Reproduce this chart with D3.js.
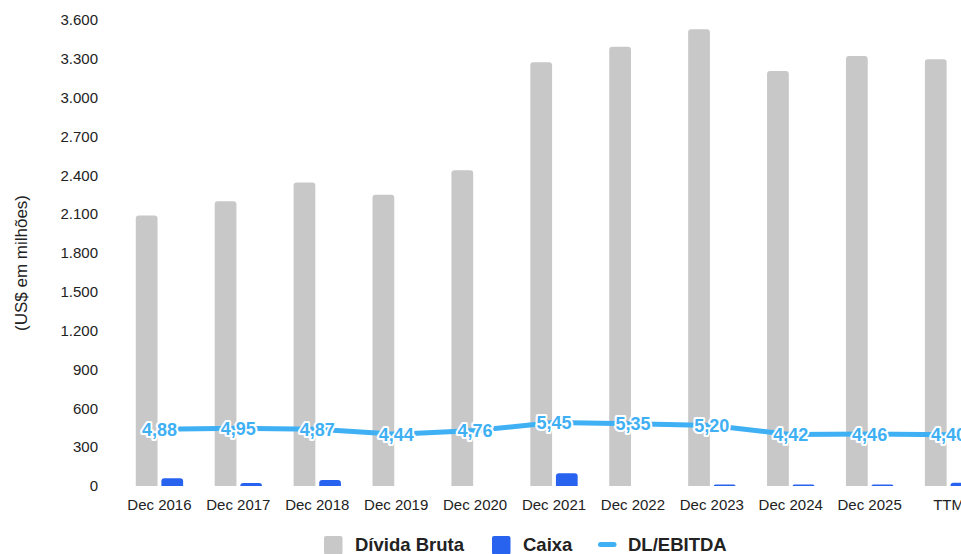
<!DOCTYPE html>
<html><head><meta charset="utf-8">
<script src="https://cdn.jsdelivr.net/npm/d3@7"></script>
<style>
html,body{margin:0;padding:0;background:#fff;overflow:hidden;}
svg{display:block;font-family:"Liberation Sans",Arial,Helvetica,sans-serif;}
</style></head>
<body>
<svg id="chart" width="961" height="554"></svg>
<script>
const categories = ["Dec 2016","Dec 2017","Dec 2018","Dec 2019","Dec 2020","Dec 2021","Dec 2022","Dec 2023","Dec 2024","Dec 2025","TTM"];
const dividaBruta = [2090, 2200, 2345, 2250, 2440, 3273, 3394, 3528, 3206, 3322, 3296];
const caixa = [60, 23, 46, 0, 0, 98, 0, 12, 12, 12, 25];
const dlEbitda = [4.88, 4.95, 4.87, 4.44, 4.76, 5.45, 5.35, 5.20, 4.42, 4.46, 4.40];
const yTicks = [0, 300, 600, 900, 1200, 1500, 1800, 2100, 2400, 2700, 3000, 3300, 3600];
const seriesNames = ["Dívida Bruta", "Caixa", "DL/EBITDA"];
const colors = {gray:"#c8c8c8", blue:"#2863f0", line:"#3fb0f3"};

const svg = d3.select("#chart");
const y = d3.scaleLinear().domain([0,3600]).range([486,20]);
const y2 = d3.scaleLinear().domain([0,40]).range([486,20]);
const x0 = d3.scaleBand().domain(categories).range([120,988]).paddingInner(0.4).paddingOuter(0.2);
const x1 = d3.scaleBand().domain(["bruta","caixa"]).range([0,x0.bandwidth()]).paddingInner(0.15);
const fmt = d3.formatLocale({decimal:",", thousands:".", grouping:[3], currency:["US$",""]});
const tickFmt = fmt.format(",.0f");
const lblFmt = fmt.format(".2f");

// y axis
const yAxis = d3.axisLeft(y).tickValues(yTicks).tickFormat(tickFmt).tickSize(0).tickPadding(0);
const ya = svg.append("g").attr("transform","translate(98,0)").call(yAxis);
ya.select(".domain").remove();
ya.selectAll("text").attr("font-size",15).attr("fill","#222").attr("font-family","Liberation Sans, Arial, sans-serif");

svg.append("text").attr("transform","translate(27,263) rotate(-90)")
  .attr("text-anchor","middle").attr("font-size",17).attr("fill","#222")
  .text("(US$ em milhões)");

// x axis
const xAxis = d3.axisBottom(x0).tickSize(0).tickPadding(0);
const xa = svg.append("g").attr("transform","translate(0,496)").call(xAxis);
xa.select(".domain").remove();
xa.selectAll("text").attr("font-size",15).attr("fill","#222").attr("font-family","Liberation Sans, Arial, sans-serif").attr("dy","0.95em");

function topRounded(x, yTop, w, h, r){
  r = Math.min(r, h, w/2);
  if (h <= 0) return "";
  return `M${x},${yTop+h}V${yTop+r}Q${x},${yTop} ${x+r},${yTop}H${x+w-r}Q${x+w},${yTop} ${x+w},${yTop+r}V${yTop+h}Z`;
}

const g = svg.append("g");
g.selectAll("path.bruta").data(categories).join("path").attr("class","bruta")
  .attr("fill",colors.gray)
  .attr("d",(c,i)=>topRounded(x0(c)+x1("bruta"), y(dividaBruta[i]), x1.bandwidth(), y(0)-y(dividaBruta[i]), 3));
g.selectAll("path.caixa").data(categories).join("path").attr("class","caixa")
  .attr("fill",colors.blue)
  .attr("d",(c,i)=>topRounded(x0(c)+x1("caixa"), y(caixa[i]), x1.bandwidth(), y(0)-y(caixa[i]), 3));

// line
const cx = c => x0(c)+x0.bandwidth()/2;
const line = d3.line().x((d,i)=>cx(categories[i])).y(d=>y2(d));
svg.append("path").datum(dlEbitda).attr("d",line).attr("fill","none")
  .attr("stroke",colors.line).attr("stroke-width",5).attr("stroke-linejoin","round");

svg.append("g").selectAll("text").data(dlEbitda).join("text")
  .attr("x",(d,i)=>cx(categories[i])).attr("y",d=>y2(d))
  .attr("dy","0.36em").attr("text-anchor","middle")
  .attr("font-size",18).attr("font-weight","bold")
  .attr("fill",colors.line).attr("stroke","#fff").attr("stroke-width",4)
  .attr("paint-order","stroke").attr("stroke-linejoin","round")
  .text(d=>lblFmt(d));

// legend
const leg = svg.append("g");
const items = [
  {name:seriesNames[0], type:"rect", color:colors.gray, sx:324, tx:355},
  {name:seriesNames[1], type:"rect", color:colors.blue, sx:492, tx:523},
  {name:seriesNames[2], type:"line", color:colors.line, sx:598, tx:628}
];
items.forEach(it=>{
  if (it.type==="rect") {
    leg.append("rect").attr("x",it.sx).attr("y",536).attr("width",18.5).attr("height",18.5).attr("rx",2).attr("fill",it.color);
  } else {
    leg.append("rect").attr("x",it.sx).attr("y",542).attr("width",18.5).attr("height",5).attr("rx",2.5).attr("fill",it.color);
  }
  leg.append("text").attr("x",it.tx).attr("y",551).attr("font-size",18.5).attr("font-weight","bold").attr("fill","#222").text(it.name);
});
</script>
</body></html>
